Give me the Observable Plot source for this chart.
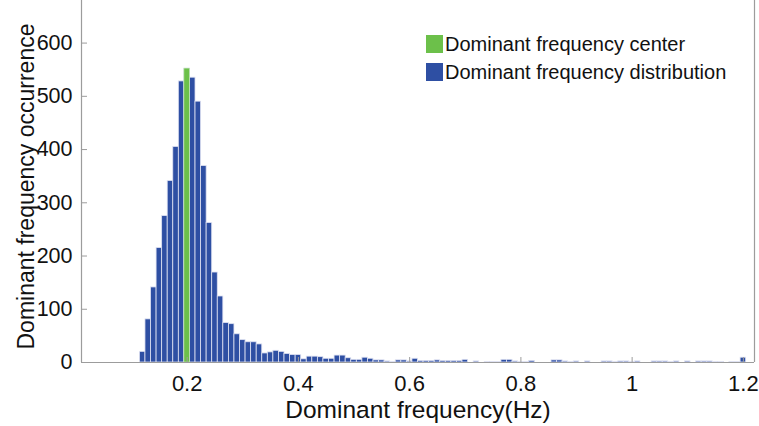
<!DOCTYPE html>
<html>
<head>
<meta charset="utf-8">
<script src="https://cdn.jsdelivr.net/npm/d3@7"></script>
<script src="https://cdn.jsdelivr.net/npm/@observablehq/plot@0.6"></script>
<style>
  body { margin: 0; background: #fff; }
  #wrap { position: relative; width: 759px; height: 426px; font-family: "Liberation Sans", Arial, sans-serif; }
  .legend { position: absolute; left: 426px; top: 30px; font-size: 20px; color: #111; line-height: 28px; }
  .legend div { display: flex; align-items: center; height: 28px; }
  .legend span.sw { display: inline-block; width: 17px; height: 18px; margin-right: 2px; }
</style>
</head>
<body>
<div id="wrap"></div>
<script>
// Bin centres (Hz) and counts of the dominant frequency histogram
const freqs = [0.12,0.13,0.14,0.15,0.16,0.17,0.18,0.19,0.20,0.21,0.22,0.23,0.24,0.25,0.26,0.27,0.28,0.29,0.30,
  0.31,0.32,0.33,0.34,0.35,0.36,0.37,0.38,0.39,0.40,0.41,0.42,0.43,0.44,0.45,0.46,0.47,0.48,0.49,0.50,
  0.51,0.52,0.53,0.54,0.55,0.56,0.57,0.58,0.59,0.60,0.61,0.62,0.63,0.64,0.65,0.66,0.67,0.68,0.69,0.70,
  0.71,0.72,0.73,0.74,0.75,0.76,0.77,0.78,0.79,0.80,0.81,0.82,0.83,0.84,0.85,0.86,0.87,0.88,0.89,0.90,
  0.91,0.92,0.93,0.94,0.95,0.96,0.97,0.98,0.99,1.00,1.01,1.02,1.03,1.04,1.05,1.06,1.07,1.08,1.09,1.10,
  1.11,1.12,1.13,1.14,1.15,1.16,1.17,1.18,1.19,1.20];
const counts = [20,81,141,215,275,341,405,528,552,535,490,369,262,169,124,74,72,53,42,
  38,38,34,17,19,22,20,16,14,14,6,11,11,10,7,7,13,13,8,5,
  5,9,7,4,4,2,1,4,4,2,7,3,3,3,4,3,3,3,3,5,
  0,2,0,1,1,1,5,5,2,1,1,3,0,0,0,4,4,2,1,2,
  0,2,0,0,2,2,1,2,2,1,2,0,0,2,2,2,1,2,0,2,
  0,2,2,2,1,1,0,1,1,9];
const centerFreq = [0.20];
const centerCount = [552];
const xTicks = [0.2, 0.4, 0.6, 0.8, 1, 1.2];
const xTickLabels = ["0.2", "0.4", "0.6", "0.8", "1", "1.2"];
const yTicks = [0, 100, 200, 300, 400, 500, 600];
const xDomain = [0.01, 1.22];
const yDomain = [0, 680];
const binWidth = 0.01;

const dist = freqs.map((f, i) => ({f, c: counts[i]})).filter(d => d.c > 0);
const center = centerFreq.map((f, i) => ({f, c: centerCount[i]}));

const W = 759, H = 426;
const mL = 81, mR = 5, mT = 0, mB = 64;
const pw = W - mL - mR, ph = H - mT - mB;
const blue = "#2e4fa3", green = "#6cc04a", axisGray = "#9c9c9c";
const font = "Liberation Sans, Arial, sans-serif";

const chart = Plot.plot({
  width: W, height: H,
  marginLeft: mL, marginRight: mR, marginTop: mT, marginBottom: mB,
  style: {fontFamily: font, background: "#fff", color: "#111"},
  x: {domain: xDomain},
  y: {domain: yDomain},
  marks: [
    Plot.rectY(dist, {x1: d => d.f - binWidth / 2, x2: d => d.f + binWidth / 2, y: "c",
      fill: blue, stroke: "#dfe2f2", strokeWidth: 0.8}),
    Plot.rectY(center, {x1: d => d.f - binWidth / 2, x2: d => d.f + binWidth / 2, y: "c",
      fill: green, stroke: "#c9e8bb", strokeWidth: 0.6}),
    Plot.ruleY([yDomain[0]], {stroke: axisGray, strokeWidth: 1.2}),
    Plot.ruleX([xDomain[0]], {stroke: axisGray, strokeWidth: 1.2}),
    Plot.ruleX([xDomain[1]], {stroke: axisGray, strokeWidth: 1.2}),
    Plot.tickX(xTicks, {x: d => d, stroke: axisGray, insetTop: ph - 5}),
    Plot.tickY(yTicks, {y: d => d, stroke: axisGray, insetRight: pw - 6}),
    Plot.axisX(xTicks, {tickSize: 0, tickPadding: 13, fontSize: 22, fill: "#111",
      tickFormat: d => xTickLabels[xTicks.indexOf(d)], label: null}),
    Plot.axisY(yTicks, {tickSize: 0, tickPadding: 9, fontSize: 21.5, fill: "#111", label: null}),
    Plot.text(["Dominant frequency(Hz)"], {frameAnchor: "bottom", lineAnchor: "middle", textAnchor: "middle",
      dy: 48, fontSize: 24.5, fill: "#111"}),
    Plot.text(["Dominant frequency occurrence"], {frameAnchor: "left", lineAnchor: "middle", textAnchor: "middle",
      dx: -55, dy: 5, rotate: -90, fontSize: 23, fill: "#111"})
  ]
});

const wrap = document.getElementById("wrap");
wrap.appendChild(chart);
const legend = document.createElement("div");
legend.className = "legend";
legend.innerHTML = `<div><span class="sw" style="background:${green}"></span>Dominant frequency center</div>
<div><span class="sw" style="background:${blue}"></span>Dominant frequency distribution</div>`;
wrap.appendChild(legend);
</script>
</body>
</html>
